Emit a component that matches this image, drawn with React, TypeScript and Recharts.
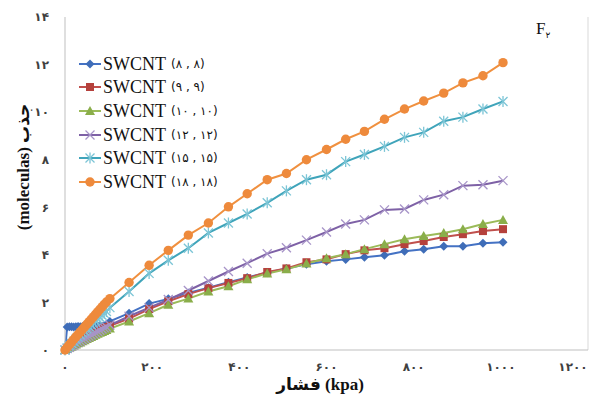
import React from 'react';
import { LineChart, Line, XAxis, YAxis, ReferenceLine } from 'recharts';

// pressure (kpa): dense points at low pressure, then ~45 kpa steps
const pressure = [
  0, 5, 10, 15, 20, 25, 30, 35, 40, 45, 50, 55, 60, 65, 70, 75, 80, 85, 90, 95,
  103, 147, 193, 237, 283, 329, 375, 418, 464, 508, 554, 600, 644, 687, 733, 779, 823, 869, 913, 959, 1005,
];

const swcnt8 = [
  0, 0.97, 0.98, 0.98, 0.97, 0.98, 0.99, 0.98, 0.99, 1.0, 0.99, 1.0, 1.0, 1.01, 1.0, 1.01, 1.02, 1.01, 1.02, 1.05,
  1.2, 1.55, 1.95, 2.15, 2.4, 2.62, 2.85, 3.05, 3.25, 3.43, 3.6, 3.73, 3.81, 3.9, 3.98, 4.15, 4.24, 4.36, 4.36, 4.49, 4.53,
];
const swcnt9 = [
  0, 0.06, 0.12, 0.17, 0.22, 0.27, 0.32, 0.37, 0.42, 0.47, 0.52, 0.57, 0.62, 0.67, 0.72, 0.77, 0.82, 0.87, 0.92, 0.96,
  1.02, 1.32, 1.72, 2.05, 2.35, 2.6, 2.82, 3.02, 3.28, 3.43, 3.69, 3.81, 4.03, 4.19, 4.28, 4.45, 4.58, 4.75, 4.87, 5.0, 5.08,
];
const swcnt10 = [
  0, 0.05, 0.1, 0.14, 0.19, 0.23, 0.28, 0.32, 0.37, 0.41, 0.46, 0.5, 0.55, 0.59, 0.64, 0.68, 0.72, 0.76, 0.8, 0.84,
  0.9, 1.2, 1.55, 1.9, 2.16, 2.46, 2.68, 2.97, 3.22, 3.39, 3.64, 3.86, 4.03, 4.24, 4.45, 4.66, 4.79, 4.92, 5.08, 5.3, 5.47,
];
const swcnt12 = [
  0, 0.06, 0.11, 0.17, 0.22, 0.28, 0.33, 0.38, 0.43, 0.48, 0.53, 0.58, 0.63, 0.68, 0.73, 0.78, 0.83, 0.88, 0.93, 0.97,
  1.05, 1.42, 1.78, 2.12, 2.5, 2.9, 3.3, 3.65, 4.05, 4.3, 4.62, 4.96, 5.3, 5.47, 5.89, 5.93, 6.31, 6.53, 6.91, 6.95, 7.12,
];
const swcnt15 = [
  0, 0.09, 0.18, 0.27, 0.36, 0.45, 0.54, 0.63, 0.72, 0.8, 0.89, 0.97, 1.06, 1.14, 1.22, 1.3, 1.38, 1.46, 1.54, 1.62,
  1.78, 2.46, 3.22, 3.77, 4.28, 4.92, 5.34, 5.72, 6.19, 6.69, 7.16, 7.37, 7.92, 8.22, 8.56, 8.94, 9.15, 9.62, 9.79, 10.13, 10.45,
];
const swcnt18 = [
  0, 0.11, 0.22, 0.33, 0.44, 0.55, 0.65, 0.76, 0.87, 0.97, 1.08, 1.18, 1.29, 1.39, 1.5, 1.6, 1.71, 1.81, 1.92, 2.02,
  2.16, 2.84, 3.56, 4.19, 4.83, 5.34, 6.02, 6.57, 7.16, 7.42, 8.0, 8.43, 8.86, 9.19, 9.7, 10.13, 10.47, 10.8, 11.23, 11.53, 12.08,
];

const xTicks = [0, 200, 400, 600, 800, 1000, 1200];
const xTickLabels = ['۰', '۲۰۰', '۴۰۰', '۶۰۰', '۸۰۰', '۱۰۰۰', '۱۲۰۰'];
const yTicks = [0, 2, 4, 6, 8, 10, 12, 14];
const yTickLabels = ['۰', '۲', '۴', '۶', '۸', '۱۰', '۱۲', '۱۴'];

const seriesNames = ['(۸ , ۸)', '(۹ , ۹)', '(۱۰ , ۱۰)', '(۱۲ , ۱۲)', '(۱۵ , ۱۵)', '(۱۸ , ۱۸)'];

type Kind = 'diamond' | 'square' | 'triangle' | 'cross' | 'star' | 'circle';

const SERIES: { key: string; kind: Kind; line: string; mark: string }[] = [
  { key: 's8', kind: 'diamond', line: '#4472C4', mark: '#3F6DB8' },
  { key: 's9', kind: 'square', line: '#C0504D', mark: '#B5413C' },
  { key: 's10', kind: 'triangle', line: '#9BBB59', mark: '#8AAE4A' },
  { key: 's12', kind: 'cross', line: '#7E61A6', mark: '#A794C8' },
  { key: 's15', kind: 'star', line: '#3FA4BA', mark: '#7CC5D6' },
  { key: 's18', kind: 'circle', line: '#F0903F', mark: '#EE8A3C' },
];

const data = pressure.map((p, i) => ({
  p,
  s8: swcnt8[i],
  s9: swcnt9[i],
  s10: swcnt10[i],
  s12: swcnt12[i],
  s15: swcnt15[i],
  s18: swcnt18[i],
}));

function Marker({ kind, cx, cy, color }: { kind: Kind; cx: number; cy: number; color: string }) {
  switch (kind) {
    case 'diamond':
      return <polygon points={`${cx},${cy - 4.5} ${cx + 4.5},${cy} ${cx},${cy + 4.5} ${cx - 4.5},${cy}`} fill={color} />;
    case 'square':
      return <rect x={cx - 4} y={cy - 4} width={8} height={8} fill={color} />;
    case 'triangle':
      return <polygon points={`${cx},${cy - 5} ${cx + 5},${cy + 4} ${cx - 5},${cy + 4}`} fill={color} />;
    case 'cross':
      return (
        <g stroke={color} strokeWidth={1.3}>
          <line x1={cx - 4.5} y1={cy - 4.5} x2={cx + 4.5} y2={cy + 4.5} />
          <line x1={cx - 4.5} y1={cy + 4.5} x2={cx + 4.5} y2={cy - 4.5} />
        </g>
      );
    case 'star':
      return (
        <g stroke={color} strokeWidth={1.3}>
          <line x1={cx - 4.5} y1={cy - 4.5} x2={cx + 4.5} y2={cy + 4.5} />
          <line x1={cx - 4.5} y1={cy + 4.5} x2={cx + 4.5} y2={cy - 4.5} />
          <line x1={cx} y1={cy - 5.5} x2={cx} y2={cy + 5.5} />
        </g>
      );
    default:
      return <circle cx={cx} cy={cy} r={4.7} fill={color} />;
  }
}

const persian = "'DejaVu Sans', sans-serif";
const serif = "'Liberation Serif', 'Times New Roman', 'DejaVu Sans', serif";

function XTick({ x, y, payload, index }: any) {
  // keep the last label inside the canvas
  const shift = index === xTicks.length - 1 ? -6 : 0;
  return (
    <text
      x={x + shift}
      y={y}
      dy="0.71em"
      textAnchor="middle"
      fill="#404040"
      fontSize={12}
      fontWeight="bold"
      fontFamily={persian}
    >
      {xTickLabels[xTicks.indexOf(payload.value)]}
    </text>
  );
}

export default function App() {
  return (
    <div style={{ position: 'absolute', left: 0, top: 0, width: 595, height: 399, background: '#fff' }}>
      <LineChart width={595} height={399} data={data} margin={{ top: 17, right: 7, bottom: 19, left: 5 }}>
        <XAxis
          type="number"
          dataKey="p"
          domain={[0, 1200]}
          ticks={xTicks}
          stroke="#BFBFBF"
          tickLine={false}
          tickMargin={6}
          height={30}
          tick={<XTick />}
        />
        <YAxis
          type="number"
          domain={[0, 14]}
          ticks={yTicks}
          tickFormatter={(_, i) => yTickLabels[i]}
          stroke="#BFBFBF"
          tickLine={false}
          tickMargin={10}
          width={60}
          tick={{ fill: '#404040', fontSize: 12, fontWeight: 'bold', fontFamily: persian }}
        />
        <ReferenceLine x={1200} stroke="#D9D9D9" />
        {SERIES.map((s) => (
          <Line
            key={s.key}
            dataKey={s.key}
            type="linear"
            stroke={s.line}
            strokeWidth={2}
            isAnimationActive={false}
            dot={(props: any) => (
              <Marker key={`${s.key}-${props.index}`} kind={s.kind} cx={props.cx} cy={props.cy} color={s.mark} />
            )}
            activeDot={false}
          />
        ))}
      </LineChart>

      {/* legend */}
      <div style={{ position: 'absolute', left: 78, top: 52 }}>
        {SERIES.map((s, i) => (
          <div key={s.key} style={{ display: 'flex', alignItems: 'center', height: 23.6, whiteSpace: 'nowrap' }}>
            <svg width={24} height={14} style={{ marginRight: 1 }}>
              <line x1={1} y1={7} x2={23} y2={7} stroke={s.line} strokeWidth={2} />
              <Marker kind={s.kind} cx={12} cy={7} color={s.mark} />
            </svg>
            <span style={{ fontFamily: serif, fontSize: 18, color: '#111', lineHeight: '20px' }}>SWCNT</span>
            <span style={{ fontFamily: persian, fontSize: 12, color: '#111', marginLeft: 5 }}>{seriesNames[i]}</span>
          </div>
        ))}
      </div>

      {/* panel label */}
      <div style={{ position: 'absolute', left: 536, top: 19, fontFamily: serif, fontSize: 17, color: '#111' }}>
        F<span style={{ fontFamily: persian, fontSize: 9, position: 'relative', top: 4 }}>۲</span>
      </div>

      {/* axis titles */}
      <div
        style={{
          position: 'absolute',
          left: 320,
          top: 384,
          transform: 'translate(-50%, -50%)',
          fontFamily: serif,
          fontWeight: 'bold',
          fontSize: 17,
          color: '#111',
          whiteSpace: 'nowrap',
        }}
      >
        فشار (kpa)
      </div>
      <div
        style={{
          position: 'absolute',
          left: 23,
          top: 167,
          transform: 'translate(-50%, -50%) rotate(-90deg)',
          fontFamily: serif,
          fontWeight: 'bold',
          fontSize: 17,
          color: '#111',
          whiteSpace: 'nowrap',
        }}
      >
        (moleculas) جذب
      </div>
    </div>
  );
}
